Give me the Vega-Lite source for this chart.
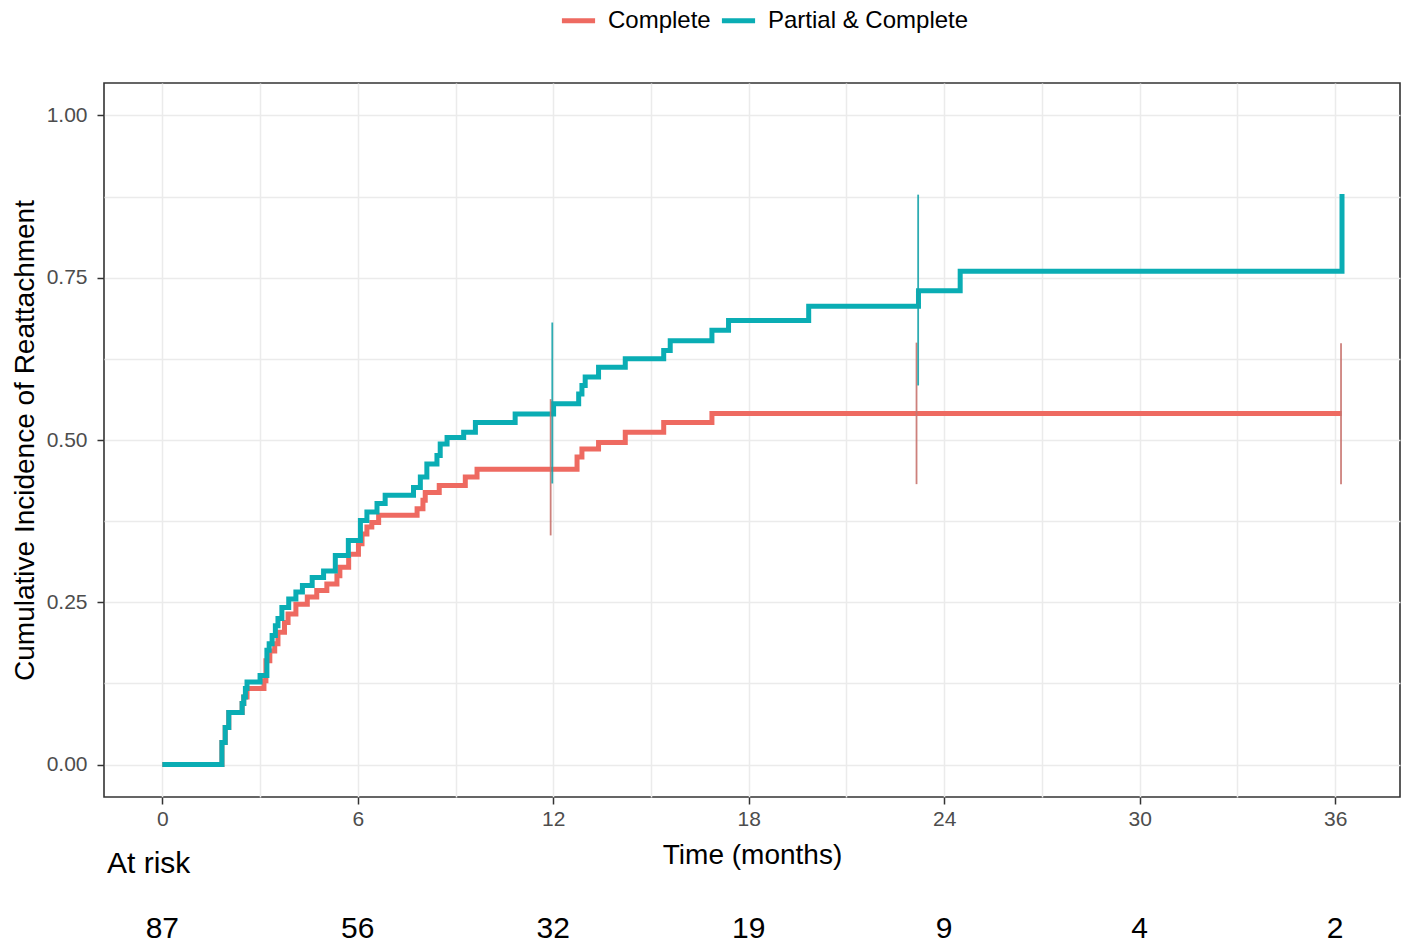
{
  "$schema": "https://vega.github.io/schema/vega-lite/v6.json",
  "padding": {"left": 10, "top": 1, "right": 4, "bottom": 0},
  "background": "white",
  "config": {
    "font": "Liberation Sans",
    "view": {"stroke": null},
    "title": {"font": "Liberation Sans"}
  },
  "datasets": {
    "curves": [
      {"time": 0, "cif": 0, "group": "Complete"},
      {"time": 1.83, "cif": 0.034, "group": "Complete"},
      {"time": 1.93, "cif": 0.057, "group": "Complete"},
      {"time": 2.04, "cif": 0.08, "group": "Complete"},
      {"time": 2.45, "cif": 0.094, "group": "Complete"},
      {"time": 2.5, "cif": 0.104, "group": "Complete"},
      {"time": 2.6, "cif": 0.117, "group": "Complete"},
      {"time": 3.12, "cif": 0.129, "group": "Complete"},
      {"time": 3.18, "cif": 0.16, "group": "Complete"},
      {"time": 3.3, "cif": 0.175, "group": "Complete"},
      {"time": 3.45, "cif": 0.186, "group": "Complete"},
      {"time": 3.55, "cif": 0.204, "group": "Complete"},
      {"time": 3.75, "cif": 0.219, "group": "Complete"},
      {"time": 3.86, "cif": 0.232, "group": "Complete"},
      {"time": 4.1, "cif": 0.247, "group": "Complete"},
      {"time": 4.45, "cif": 0.258, "group": "Complete"},
      {"time": 4.74, "cif": 0.268, "group": "Complete"},
      {"time": 5.05, "cif": 0.278, "group": "Complete"},
      {"time": 5.36, "cif": 0.291, "group": "Complete"},
      {"time": 5.45, "cif": 0.304, "group": "Complete"},
      {"time": 5.72, "cif": 0.324, "group": "Complete"},
      {"time": 6.02, "cif": 0.34, "group": "Complete"},
      {"time": 6.13, "cif": 0.355, "group": "Complete"},
      {"time": 6.28, "cif": 0.366, "group": "Complete"},
      {"time": 6.43, "cif": 0.373, "group": "Complete"},
      {"time": 6.64, "cif": 0.384, "group": "Complete"},
      {"time": 7.82, "cif": 0.394, "group": "Complete"},
      {"time": 8.0, "cif": 0.407, "group": "Complete"},
      {"time": 8.07, "cif": 0.419, "group": "Complete"},
      {"time": 8.5, "cif": 0.43, "group": "Complete"},
      {"time": 9.3, "cif": 0.443, "group": "Complete"},
      {"time": 9.66, "cif": 0.455, "group": "Complete"},
      {"time": 12.73, "cif": 0.474, "group": "Complete"},
      {"time": 12.88, "cif": 0.486, "group": "Complete"},
      {"time": 13.39, "cif": 0.496, "group": "Complete"},
      {"time": 14.21, "cif": 0.512, "group": "Complete"},
      {"time": 15.39, "cif": 0.527, "group": "Complete"},
      {"time": 16.87, "cif": 0.541, "group": "Complete"},
      {"time": 36.2, "cif": 0.541, "group": "Complete"},
      {"time": 0, "cif": 0, "group": "Partial & Complete"},
      {"time": 1.83, "cif": 0.034, "group": "Partial & Complete"},
      {"time": 1.93, "cif": 0.057, "group": "Partial & Complete"},
      {"time": 2.04, "cif": 0.08, "group": "Partial & Complete"},
      {"time": 2.45, "cif": 0.094, "group": "Partial & Complete"},
      {"time": 2.5, "cif": 0.104, "group": "Partial & Complete"},
      {"time": 2.55, "cif": 0.117, "group": "Partial & Complete"},
      {"time": 2.6, "cif": 0.127, "group": "Partial & Complete"},
      {"time": 3.0, "cif": 0.137, "group": "Partial & Complete"},
      {"time": 3.21, "cif": 0.176, "group": "Partial & Complete"},
      {"time": 3.28, "cif": 0.186, "group": "Partial & Complete"},
      {"time": 3.37, "cif": 0.199, "group": "Partial & Complete"},
      {"time": 3.47, "cif": 0.214, "group": "Partial & Complete"},
      {"time": 3.55, "cif": 0.225, "group": "Partial & Complete"},
      {"time": 3.67, "cif": 0.242, "group": "Partial & Complete"},
      {"time": 3.88, "cif": 0.255, "group": "Partial & Complete"},
      {"time": 4.1, "cif": 0.266, "group": "Partial & Complete"},
      {"time": 4.3, "cif": 0.276, "group": "Partial & Complete"},
      {"time": 4.6, "cif": 0.288, "group": "Partial & Complete"},
      {"time": 4.95, "cif": 0.298, "group": "Partial & Complete"},
      {"time": 5.31, "cif": 0.322, "group": "Partial & Complete"},
      {"time": 5.71, "cif": 0.345, "group": "Partial & Complete"},
      {"time": 6.08, "cif": 0.376, "group": "Partial & Complete"},
      {"time": 6.28, "cif": 0.389, "group": "Partial & Complete"},
      {"time": 6.59, "cif": 0.402, "group": "Partial & Complete"},
      {"time": 6.84, "cif": 0.415, "group": "Partial & Complete"},
      {"time": 7.71, "cif": 0.427, "group": "Partial & Complete"},
      {"time": 7.92, "cif": 0.443, "group": "Partial & Complete"},
      {"time": 8.12, "cif": 0.463, "group": "Partial & Complete"},
      {"time": 8.43, "cif": 0.476, "group": "Partial & Complete"},
      {"time": 8.53, "cif": 0.494, "group": "Partial & Complete"},
      {"time": 8.74, "cif": 0.504, "group": "Partial & Complete"},
      {"time": 9.25, "cif": 0.512, "group": "Partial & Complete"},
      {"time": 9.61, "cif": 0.527, "group": "Partial & Complete"},
      {"time": 10.83, "cif": 0.54, "group": "Partial & Complete"},
      {"time": 12.01, "cif": 0.556, "group": "Partial & Complete"},
      {"time": 12.78, "cif": 0.571, "group": "Partial & Complete"},
      {"time": 12.88, "cif": 0.584, "group": "Partial & Complete"},
      {"time": 12.98, "cif": 0.597, "group": "Partial & Complete"},
      {"time": 13.39, "cif": 0.612, "group": "Partial & Complete"},
      {"time": 14.21, "cif": 0.625, "group": "Partial & Complete"},
      {"time": 15.39, "cif": 0.638, "group": "Partial & Complete"},
      {"time": 15.59, "cif": 0.653, "group": "Partial & Complete"},
      {"time": 16.87, "cif": 0.669, "group": "Partial & Complete"},
      {"time": 17.38, "cif": 0.684, "group": "Partial & Complete"},
      {"time": 19.84, "cif": 0.706, "group": "Partial & Complete"},
      {"time": 23.21, "cif": 0.73, "group": "Partial & Complete"},
      {"time": 24.49, "cif": 0.76, "group": "Partial & Complete"},
      {"time": 36.21, "cif": 0.879, "group": "Partial & Complete"}
    ],
    "ci": [
      {"time": 11.92, "lower": 0.353, "upper": 0.563, "group": "Complete"},
      {"time": 23.15, "lower": 0.432, "upper": 0.65, "group": "Complete"},
      {"time": 36.18, "lower": 0.432, "upper": 0.649, "group": "Complete"},
      {"time": 11.97, "lower": 0.433, "upper": 0.681, "group": "Partial & Complete"},
      {"time": 23.2, "lower": 0.584, "upper": 0.878, "group": "Partial & Complete"}
    ],
    "risk": [
      {"time": 0, "n": 87},
      {"time": 6, "n": 56},
      {"time": 12, "n": 32},
      {"time": 18, "n": 19},
      {"time": 24, "n": 9},
      {"time": 30, "n": 4},
      {"time": 36, "n": 2}
    ]
  },
  "bounds": "flush",
  "spacing": 112,
  "vconcat": [
    {
      "width": 1296,
      "height": 714,
      "view": {"stroke": "#333333", "strokeWidth": 1.6},
      "layer": [
        {
          "data": {"name": "curves"},
          "mark": {"type": "line", "interpolate": "step-after", "strokeWidth": 5},
          "encoding": {
            "x": {
              "field": "time", "type": "quantitative",
              "scale": {"domain": [-1.79, 37.99], "nice": false, "zero": false},
              "axis": {
                "title": "Time (months)",
                "values": [0, 3, 6, 9, 12, 15, 18, 21, 24, 27, 30, 33, 36],
                "labelExpr": "datum.value % 6 === 0 ? datum.label : ''",
                "tickOpacity": {"condition": {"test": "datum.value % 6 === 0", "value": 1}, "value": 0},
                "domain": false,
                "tickColor": "#333333", "tickSize": 7, "tickWidth": 1.5,
                "labelFontSize": 21, "labelColor": "#4D4D4D", "labelPadding": 4,
                "labelFlush": false, "labelOverlap": false,
                "titleFontSize": 28, "titleFontWeight": "normal", "titleColor": "#000000", "titlePadding": 12,
                "gridColor": "#EBEBEB", "gridWidth": 1.5
              }
            },
            "y": {
              "field": "cif", "type": "quantitative",
              "scale": {"domain": [-0.05, 1.05], "nice": false, "zero": false},
              "axis": {
                "title": "Cumulative Incidence of Reattachment",
                "values": [0, 0.125, 0.25, 0.375, 0.5, 0.625, 0.75, 0.875, 1],
                "format": ".2f",
                "labelExpr": "abs(datum.value * 4 - round(datum.value * 4)) < 0.001 ? datum.label : ''",
                "tickOpacity": {"condition": {"test": "abs(datum.value * 4 - round(datum.value * 4)) < 0.001", "value": 1}, "value": 0},
                "domain": false,
                "tickColor": "#333333", "tickSize": 7, "tickWidth": 1.5,
                "labelFontSize": 21, "labelColor": "#4D4D4D", "labelPadding": 10,
                "labelFlush": false, "labelOverlap": false,
                "titleFontSize": 28, "titleFontWeight": "normal", "titleColor": "#000000", "titlePadding": 7,
                "gridColor": "#EBEBEB", "gridWidth": 1.5
              }
            },
            "color": {
              "field": "group", "type": "nominal",
              "scale": {"domain": ["Complete", "Partial & Complete"], "range": ["#EE6A61", "#0AADB4"]},
              "legend": {
                "title": null, "orient": "none", "legendX": 455, "legendY": -82,
                "direction": "horizontal", "labelFontSize": 24, "labelColor": "#000000",
                "labelLimit": 400,
                "symbolType": "stroke", "symbolSize": 1100, "symbolStrokeWidth": 5,
                "columnPadding": 0, "labelOffset": 10
              }
            }
          }
        },
        {
          "data": {"name": "ci"},
          "mark": {"type": "rule", "strokeWidth": 1.8, "opacity": 0.9},
          "encoding": {
            "x": {"field": "time", "type": "quantitative"},
            "y": {"field": "lower", "type": "quantitative"},
            "y2": {"field": "upper"},
            "stroke": {
              "field": "group", "type": "nominal",
              "scale": {"domain": ["Complete", "Partial & Complete"], "range": ["#C8736E", "#17A3AA"]},
              "legend": null
            }
          }
        }
      ]
    },
    {
      "width": 1296,
      "height": 40,
      "data": {"name": "risk"},
      "title": {
        "text": "At risk", "anchor": "start", "frame": "group", "fontSize": 30,
        "fontWeight": "normal", "color": "#000000", "offset": 30, "dx": 3
      },
      "mark": {"type": "text", "fontSize": 30, "color": "#000000"},
      "encoding": {
        "x": {
          "field": "time", "type": "quantitative",
          "scale": {"domain": [-1.79, 37.99], "nice": false, "zero": false},
          "axis": null
        },
        "text": {"field": "n", "type": "quantitative"}
      }
    }
  ]
}
